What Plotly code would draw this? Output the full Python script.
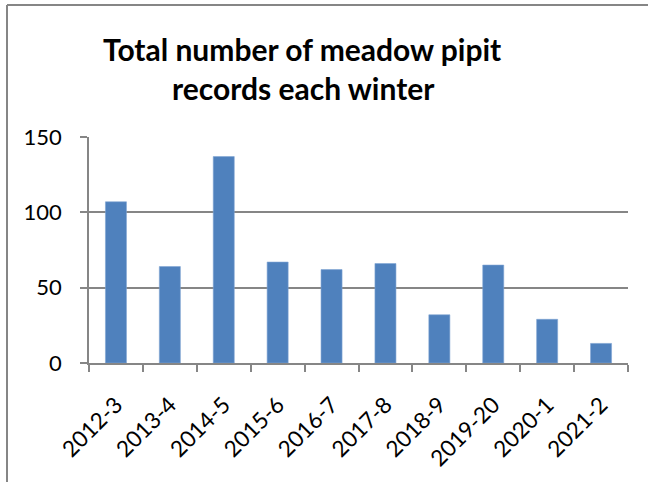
import plotly.graph_objects as go

seasons = ["2012-3", "2013-4", "2014-5", "2015-6", "2016-7",
           "2017-8", "2018-9", "2019-20", "2020-1", "2021-2"]
records = [107, 64, 137, 67, 62, 66, 32, 65, 29, 13]
title_lines = ["Total number of meadow pipit", "records each winter"]
y_ticks = [0, 50, 100, 150]

W, H = 648, 482
L, R, T, B = 89, 20, 137, 119
pw, ph = W - L - R, H - T - B

def px_x(x):
    return (x - L) / pw

def px_y(y):
    return 1 + (T - y) / ph

GRAY = "#868686"
FONT = "Lato"

fig = go.Figure(go.Bar(
    x=seasons, y=records,
    marker=dict(color="#4F81BD", line=dict(color="#7FA4D4", width=0.6)),
    hoverinfo="skip",
))

fig.update_layout(
    width=W, height=H,
    margin=dict(l=L, r=R, t=T, b=B, pad=0),
    paper_bgcolor="white", plot_bgcolor="white",
    bargap=0.61,
    showlegend=False,
    font=dict(family=FONT, color="black", size=22),
)

fig.update_xaxes(
    type="category",
    showline=True, linecolor=GRAY, linewidth=1.5,
    ticks="outside", ticklen=7, tickcolor=GRAY, tickwidth=1.5,
    tickson="boundaries", tickangle=-45, showgrid=False,
    ticklabelstandoff=18,
    tickfont=dict(family=FONT, size=22.5, color="black"),
)
fig.update_yaxes(
    range=[0, 150], tickvals=y_ticks,
    showline=True, linecolor=GRAY, linewidth=1.5,
    ticks="outside", ticklen=7, tickcolor=GRAY, tickwidth=1.5,
    showgrid=True, gridcolor=GRAY, gridwidth=1.5, zeroline=False,
    ticklabelstandoff=14,
    tickfont=dict(family=FONT, size=22, color="black"),
)

# title lines
fig.add_annotation(text="<b>%s</b>" % title_lines[0], xref="paper", yref="paper",
                   x=px_x(302), y=px_y(49), xanchor="center", yanchor="middle",
                   showarrow=False, font=dict(family=FONT, size=30, color="black"))
fig.add_annotation(text="<b>%s</b>" % title_lines[1], xref="paper", yref="paper",
                   x=px_x(303), y=px_y(88), xanchor="center", yanchor="middle",
                   showarrow=False, font=dict(family=FONT, size=30, color="black"))

# chart border (left and top edges visible)
fig.add_shape(type="line", xref="paper", yref="paper",
              x0=px_x(7), x1=px_x(7), y0=px_y(H + 10), y1=px_y(5),
              line=dict(color=GRAY, width=2))
fig.add_shape(type="line", xref="paper", yref="paper",
              x0=px_x(7), x1=px_x(W + 10), y0=px_y(5), y1=px_y(5),
              line=dict(color=GRAY, width=2))

fig.write_html("out.html")
